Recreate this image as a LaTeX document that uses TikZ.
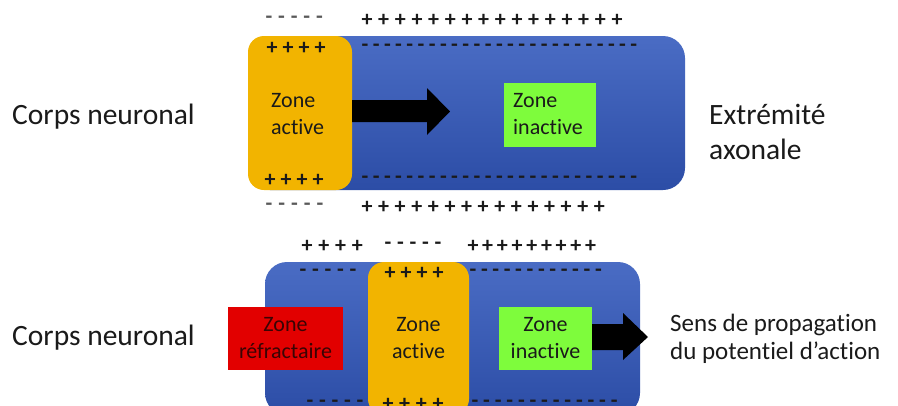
\documentclass[tikz,border=0pt]{standalone}
\usepackage{fontspec}
\setmainfont{Carlito}[Ligatures=NoCommon]
\definecolor{bluetop}{HTML}{4A6CC4}
\definecolor{bluebot}{HTML}{2C4DA6}
\definecolor{amber}{HTML}{F2B400}
\definecolor{lime}{HTML}{7EFC3C}
\definecolor{redz}{HTML}{E20000}
\definecolor{ink}{HTML}{1A1A1A}
\definecolor{darkred}{HTML}{3A0404}
\tikzset{
  membrane/.style={rounded corners=22pt, top color=bluetop, bottom color=bluebot, draw=none, inner sep=0},
  activebox/.style={rounded corners=16pt, fill=amber, draw=none, inner sep=0},
  greenbox/.style={fill=lime, draw=none, inner sep=0},
  redbox/.style={fill=redz, draw=none, inner sep=0},
  biglabel/.style={font=\fontsize{29.5}{35}\selectfont, align=left, anchor=west, inner sep=0, text=ink},
  sidelabel/.style={font=\fontsize{25}{28}\selectfont, align=left, anchor=west, inner sep=0, text=ink},
  zonetext/.style={font=\fontsize{22}{27}\selectfont, inner sep=0, text=ink},
  sign/.style={font=\bfseries\fontsize{22}{22}\selectfont, inner sep=0, text=ink},
  greysign/.style={font=\bfseries\fontsize{22}{22}\selectfont, inner sep=0, text=black!65},
}
\newcommand{\signrow}[7]{% name, style, first x, spacing, count, y, glyph
  \foreach \k in {1,...,#5} {\node[#2] (#1\k) at ({#3+#4*(\k-1)},#6) {#7};}}
\begin{document}
\begin{tikzpicture}[x=1pt,y=-1pt]
\useasboundingbox (0,0) rectangle (898,405);

% ---------- top panel ----------
\node[membrane, minimum width=437pt, minimum height=154pt] (mem1) at (466.5,113) {};
\node[activebox, minimum width=104pt, minimum height=154pt] (act1) at (300,113) {};
\node[greenbox, minimum width=92pt, minimum height=64pt] (ina1) at (550,115) {};
\node[zonetext, align=left, anchor=west] (act1t) at (271,114) {Zone\\active};
\node[zonetext, align=left, anchor=west] (ina1t) at (513,114) {Zone\\inactive};
\fill[black] (act1.east |- 0,100) -- (427,100) -- (427,88) -- (450,111.5) -- (427,135) -- (427,122) -- (act1.east |- 0,122) -- cycle;

\node[biglabel] (corps1) at (12,117) {Corps neuronal};
\node[biglabel] (axo) at (709,132) {Extrémité\\axonale};

\signrow{ta}{greysign}{269}{12.6}{5}{20}{-}
\signrow{tb}{sign}{367}{16.67}{16}{20}{+}
\signrow{tc}{sign}{272}{16}{4}{48}{+}
\signrow{td}{sign}{365}{11.2}{25}{48}{-}
\signrow{te}{sign}{270}{16}{4}{180}{+}
\signrow{tf}{sign}{365}{11.2}{25}{180}{-}
\signrow{tg}{greysign}{269}{12.75}{5}{207}{-}
\signrow{th}{sign}{367}{16.6}{15}{207}{+}

% ---------- bottom panel ----------
\node[membrane, minimum width=375pt, minimum height=153pt] (mem2) at (452.5,338.5) {};
\node[activebox, minimum width=101pt, minimum height=153pt] (act2) at (418.5,338.5) {};
\node[redbox, minimum width=115pt, minimum height=63pt] (ref2) at (285.5,338.5) {};
\node[greenbox, minimum width=93pt, minimum height=63pt] (ina2) at (545.5,338.5) {};
\node[zonetext, align=center, text=darkred] (ref2t) at (285.5,338.5) {Zone\\réfractaire};
\node[zonetext, align=center] (act2t) at (418.5,338.5) {Zone\\active};
\node[zonetext, align=center] (ina2t) at (545.5,338.5) {Zone\\inactive};
\fill[black] (ina2.east |- 0,324) -- (623,324) -- (623,313) -- (648,337) -- (623,360) -- (623,350) -- (ina2.east |- 0,350) -- cycle;

\node[biglabel] (corps2) at (12,338) {Corps neuronal};
\node[sidelabel] (sens) at (670,338.5) {Sens de propagation\\du potentiel d’action};

\signrow{ba}{sign}{307}{16.8}{4}{246}{+}
\signrow{bb}{sign}{388}{12.5}{5}{246}{-}
\signrow{bc}{sign}{473}{14.7}{9}{246}{+}
\signrow{bd}{sign}{303}{12.5}{5}{273}{-}
\signrow{be}{sign}{390}{16}{4}{273}{+}
\signrow{bf}{sign}{473}{11.4}{12}{273}{-}
\signrow{bg}{sign}{310}{12.5}{5}{404}{-}
\signrow{bh}{sign}{388}{16.7}{4}{404}{+}
\signrow{bi}{sign}{475}{11.6}{13}{404}{-}
\end{tikzpicture}
\end{document}
